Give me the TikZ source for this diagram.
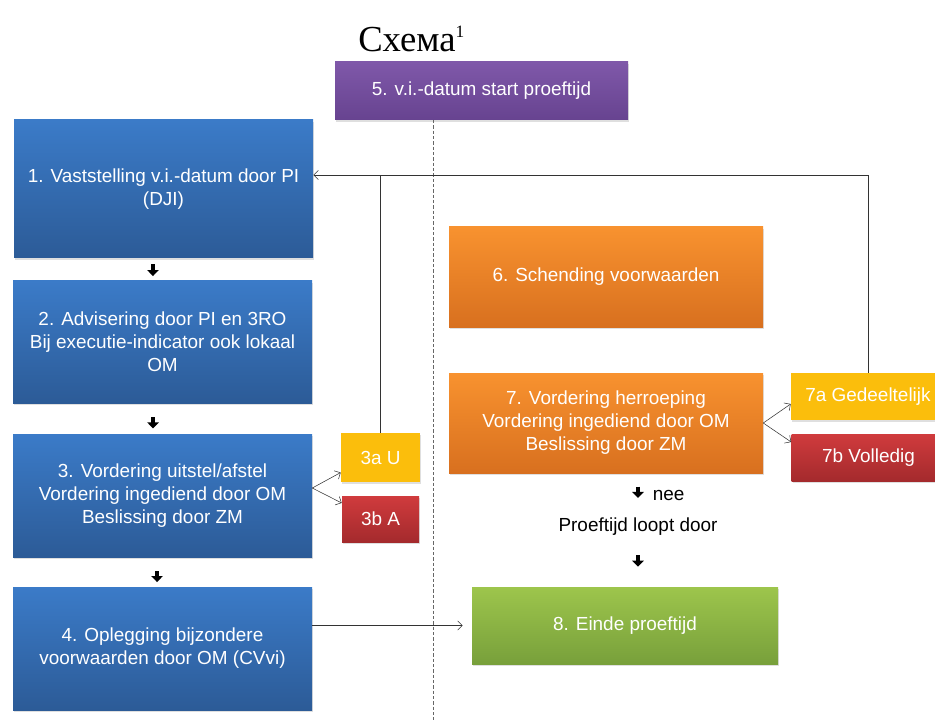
\documentclass[tikz,border=0pt]{standalone}
\usepackage{fontspec}
\setmainfont{Liberation Sans}
\newfontfamily\titelfont{Liberation Serif}
\usetikzlibrary{arrows.meta,shadows}
\definecolor{blauwT}{HTML}{3B7BC8}
\definecolor{blauwB}{HTML}{2C5B97}
\definecolor{paarsT}{HTML}{7F58A9}
\definecolor{paarsB}{HTML}{674390}
\definecolor{oranjeT}{HTML}{F8922F}
\definecolor{oranjeB}{HTML}{D8701F}
\definecolor{geel}{HTML}{FBBE0C}
\definecolor{roodT}{HTML}{D03B3D}
\definecolor{roodB}{HTML}{A42A2D}
\definecolor{groenT}{HTML}{9DC54C}
\definecolor{groenB}{HTML}{78A03B}
\begin{document}
\begin{tikzpicture}[x=.75pt,y=-.75pt,
	box/.style={rectangle,inner sep=0pt,align=center,text=white,
		font=\fontsize{14.2}{17.3}\selectfont,
		drop shadow={opacity=.25,shadow xshift=1pt,shadow yshift=-1.5pt}},
	blauw/.style={box,top color=blauwT,bottom color=blauwB,minimum width=224.25pt,minimum height=#1},
	oranje/.style={box,top color=oranjeT,bottom color=oranjeB,minimum width=235.5pt,minimum height=75pt},
	lijn/.style={draw=black!80,thin},
	pijl/.style={lijn,-{Straight Barb[length=3.5pt,width=7pt]}},
	blk/.style={line width=3.5pt,-{Triangle[length=4.5pt,width=8.5pt]}}]
	\useasboundingbox (0,0) rectangle (935,720);
	%titel%
	\node[anchor=base west,inner sep=0pt,font=\titelfont\fontsize{27.5}{30}\selectfont] (titel) at (358,52) {Схема\raisebox{10.5pt}{\fontsize{13}{13}\selectfont 1}};
	%linker kolom%
	\node[blauw=103.5pt] (b1) at (163.5,189) {1. Vaststelling v.i.-datum door PI\\(DJI)};
	\node[blauw=91.5pt] (b2) at (162.5,342) {2. Advisering door PI en 3RO\\Bij executie-indicator ook lokaal\\OM};
	\node[blauw=92.25pt] (b3) at (162.5,495.5) {3. Vordering uitstel/afstel\\Vordering ingediend door OM\\Beslissing door ZM};
	\node[blauw=92.25pt] (b4) at (162.5,648.5) {4. Oplegging bijzondere\\voorwaarden door OM (CVvi)};
	\node[box,fill=geel,minimum width=59.25pt,minimum height=36.75pt] (b3a) at (380.5,457.5) {3a U};
	\node[box,top color=roodT,bottom color=roodB,minimum width=57.75pt,minimum height=34.5pt] (b3b) at (380.5,519) {3b A};
	%rechter kolom%
	\node[box,top color=paarsT,bottom color=paarsB,minimum width=219.75pt,minimum height=43.5pt] (b5) at (481.5,91) {5. v.i.-datum start proeftijd};
	\node[oranje] (b6) at (606,277) {6. Schending voorwaarden};
	\node[oranje] (b7) at (606,423) {7. Vordering herroeping\\Vordering ingediend door OM\\Beslissing door ZM};
	\node[box,fill=geel,minimum width=115.5pt,minimum height=35.25pt] (b7a) at (868,396.5) {7a Gedeeltelijk};
	\node[box,top color=roodT,bottom color=roodB,minimum width=115.5pt,minimum height=35.25pt] (b7b) at (868.5,457.5) {7b Volledig};
	\node[inner sep=0pt,font=\fontsize{14.2}{17.3}\selectfont] (door) at (638,527) {Proeftijd loopt door};
	\node[box,top color=groenT,bottom color=groenB,minimum width=229.5pt,minimum height=57.75pt] (b8) at (625,625.5) {8. Einde proeftijd};
	%scheiding%
	\coordinate (dtop) at (433,120);
	\coordinate (dbot) at (433,720);
	\draw[black!60,dash pattern=on 2.5pt off 1.5pt] (dtop) -- (dbot);
	%pijlen%
	\draw[blk,shorten <=4.5pt,shorten >=3.5pt] ([xshift=-7.9pt]b1.south) -- ([xshift=-7.9pt]b1.south |- b2.north);
	\draw[blk,shorten <=10.5pt,shorten >=4pt] ([xshift=-7.1pt]b2.south) -- ([xshift=-7.1pt]b2.south |- b3.north);
	\draw[blk,shorten <=10.5pt,shorten >=3.5pt] ([xshift=-4.1pt]b3.south) -- ([xshift=-4.1pt]b3.south |- b4.north);
	\draw[pijl] ([yshift=5.6pt]b3.east) -- ([yshift=-11.25pt]b3a.west);
	\draw[pijl] ([yshift=5.6pt]b3.east) -- ([yshift=12pt]b3b.west);
	\draw[pijl] (b7.east) -- ([yshift=-5.6pt]b7a.west);
	\draw[pijl] (b7.east) -- ([yshift=11.6pt]b7b.west);
	\draw[pijl,shorten >=6.75pt] (b4.east |- b8.west) -- (b8.west);
	\coordinate (terug) at (0,175);
	\draw[lijn] (b3a.north) -- (b3a.north |- terug);
	\draw[pijl] (b7a.north) |- (b1.east |- terug);
	\draw[blk,shorten <=10pt,shorten >=15pt] (b7.south -| door) -- (door.north)
		node[midway,right=6pt,text=black,font=\fontsize{14.2}{17.3}\selectfont] {nee};
	\draw[blk,shorten <=14.5pt,shorten >=15pt] (door.south) -- (door.south |- b8.north);
\end{tikzpicture}
\end{document}
